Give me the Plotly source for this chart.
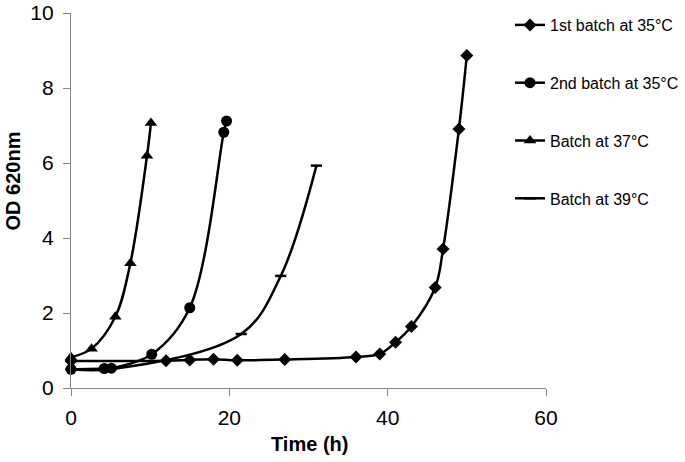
import plotly.graph_objects as go

# Series data
t_35a = [0, 12, 15, 18, 21, 27, 36, 39, 41, 43, 46, 47, 49, 50]
od_35a = [0.72, 0.73, 0.75, 0.77, 0.74, 0.76, 0.83, 0.91, 1.22, 1.64, 2.68, 3.71, 6.91, 8.87]

t_35b = [0, 4.2, 5.1, 10.2, 15.0, 19.3, 19.65]
od_35b = [0.5, 0.52, 0.53, 0.9, 2.14, 6.82, 7.12]

t_37 = [0, 2.6, 5.6, 7.5, 9.6, 10.1]
od_37 = [0.82, 1.05, 1.9, 3.33, 6.19, 7.07]

t_39 = [0, 5.0, 21.5, 26.5, 31.0]
od_39 = [0.5, 0.5, 1.44, 2.99, 5.93]

names = ["1st batch at 35°C", "2nd batch at 35°C", "Batch at 37°C", "Batch at 39°C"]
x_ticks = [0, 20, 40, 60]
y_ticks = [0, 2, 4, 6, 8, 10]

FONT = "Liberation Sans, Arial, sans-serif"
AXC = "#868686"

# plot area targeted at x 71..546, y 13..388 (page body margin removed)
L, R, T, B = 71, 139, 13, 74
PW, PH = 685 - L - R, 462 - T - B

fig = go.Figure()
series = [
    (t_35a, od_35a, "diamond", 10),
    (t_35b, od_35b, "circle", 11),
    (t_37, od_37, "triangle-up", 11),
    (t_39, od_39, "line-ew", 8),
]
for i, (xs, ys, sym, sz) in enumerate(series):
    fig.add_trace(go.Scatter(
        x=xs, y=ys, name=names[i], legendgroup=f"g{i}",
        mode="lines+markers",
        line=dict(color="black", width=2.5, shape="spline", smoothing=1),
        marker=dict(symbol=sym, size=sz, color="black",
                    line=dict(color="black", width=2.5 if sym == "line-ew" else 0)),
        cliponaxis=False,
    ))

fig.update_layout(
    width=685, height=462,
    margin=dict(l=L, r=R, t=T, b=B, autoexpand=False),
    paper_bgcolor="white", plot_bgcolor="white",
    font=dict(family=FONT, size=20, color="black"),
    showlegend=True,
    legend=dict(
        xref="container", yref="container",
        x=510 / 685, y=1 - 8 / 462, xanchor="left", yanchor="top",
        font=dict(family=FONT, size=16, color="black"),
        tracegroupgap=34, itemwidth=30, bgcolor="rgba(0,0,0,0)",
    ),
    xaxis=dict(
        range=[0, 60], tickvals=x_ticks, ticktext=[str(v) for v in x_ticks],
        showline=True, linecolor=AXC, linewidth=1.3,
        ticks="outside", ticklen=7, tickcolor=AXC, tickwidth=1.3,
        showgrid=False, zeroline=False, ticklabelstandoff=4,
        tickfont=dict(family=FONT, size=21, color="black"),
    ),
    yaxis=dict(
        range=[0, 10], tickvals=y_ticks, ticktext=[str(v) for v in y_ticks],
        showline=True, linecolor=AXC, linewidth=1.3,
        ticks="outside", ticklen=7, tickcolor=AXC, tickwidth=1.3,
        showgrid=False, zeroline=False, ticklabelstandoff=5,
        tickfont=dict(family=FONT, size=21, color="black"),
    ),
    annotations=[
        dict(text="<b>Time (h)</b>", xref="paper", yref="paper",
             x=(309.5 - L) / PW, y=((462 - B) - 444) / PH,
             xanchor="center", yanchor="middle", showarrow=False,
             font=dict(family=FONT, size=20, color="black")),
        dict(text="<b>OD 620nm</b>", xref="paper", yref="paper",
             x=(12.5 - L) / PW, y=((462 - B) - 181) / PH, textangle=-90,
             xanchor="center", yanchor="middle", showarrow=False,
             font=dict(family=FONT, size=20, color="black")),
    ],
)

fig.write_html("out.html", config={"displayModeBar": False},
               post_script="document.body.style.margin='0';")
